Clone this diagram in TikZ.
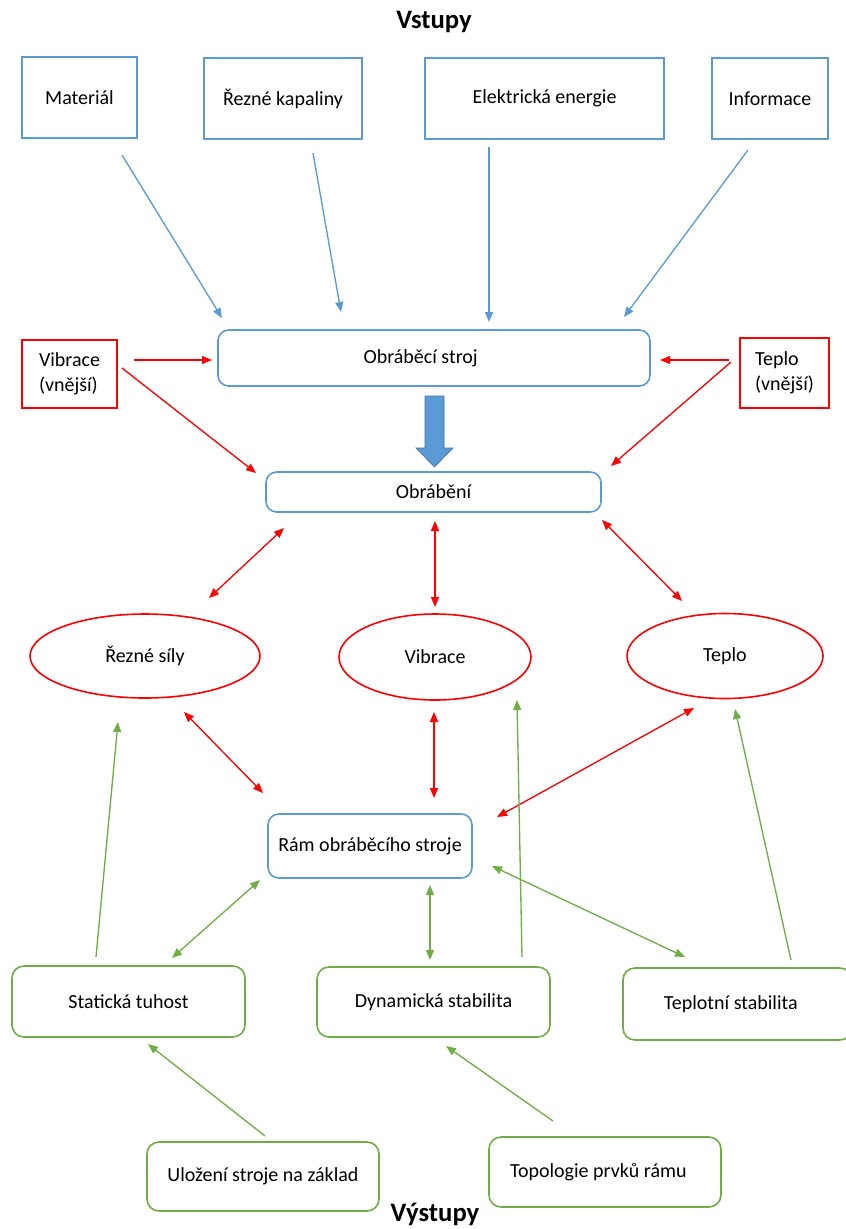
\documentclass[tikz,border=0pt]{standalone}
\usepackage{fontspec}
\setmainfont{Carlito}
\usetikzlibrary{arrows.meta,shapes.geometric}
\definecolor{cblue}{HTML}{5B9BD5}
\definecolor{cblued}{HTML}{41719C}
\definecolor{cred}{HTML}{FF0000}
\definecolor{cgreen}{HTML}{70AD47}
\newcommand\mybox[7]{\node[#6, minimum width={(#4-#2)*0.75pt}, minimum height={(#5-#3)*0.75pt}] (#1) at ({(#2+#4)/2},{(#3+#5)/2}) {#7};}
\begin{document}
\begin{tikzpicture}[x=0.75pt,y=-0.75pt,
  font=\fontsize{15}{19}\selectfont,
  bbox/.style={draw=cblue, line width=1.2pt, inner sep=0pt},
  rbbox/.style={bbox, rounded corners=8pt},
  rbox/.style={draw=cred, line width=1.2pt, inner sep=0pt, align=left},
  rell/.style={draw=cred, line width=1.2pt, ellipse, inner sep=0pt},
  gbox/.style={draw=cgreen, line width=1.2pt, inner sep=0pt, rounded corners=9pt},
  tip/.style={-{Triangle[length=7.5pt,width=6pt]}},
  dtip/.style={{Triangle[length=7.5pt,width=6pt]}-{Triangle[length=7.5pt,width=6pt]}},
  barr/.style={tip, draw=cblue, line width=1pt},
  rarr/.style={tip, draw=cred, line width=1pt},
  rdarr/.style={dtip, draw=cred, line width=1pt},
  garr/.style={tip, draw=cgreen, line width=1pt},
  gdarr/.style={dtip, draw=cgreen, line width=1pt},
  title/.style={font=\fontsize{20}{24}\selectfont\bfseries, inner sep=0pt}]
\useasboundingbox (0,0) rectangle (846,1229);

\node[title] (vstupy) at (434,22) {Vstupy};

% inputs
\mybox{mat}{22}{57}{137}{138}{bbox}{Materiál}
\mybox{rez}{204}{58}{362}{139}{bbox}{Řezné kapaliny}
\mybox{ele}{425}{58}{664}{139}{bbox}{Elektrická energie}
\mybox{inf}{712}{58}{828}{139}{bbox}{Informace}

\mybox{stroj}{218}{330}{650}{386}{rbbox}{Obráběcí stroj\kern20pt}
\mybox{vibv}{22}{340}{117}{408}{rbox}{Vibrace\\(vnější)}
\mybox{teplv}{740}{338}{829}{408}{rbox}{Teplo\\(vnější)}
\mybox{obr}{266}{472}{601}{512}{rbbox}{Obrábění}

\node[rell, minimum width={230*0.75pt}, minimum height={84*0.75pt}] (rs) at (145,656) {Řezné síly};
\node[rell, minimum width={192*0.75pt}, minimum height={86*0.75pt}] (vib) at (435,657) {Vibrace};
\node[rell, minimum width={196*0.75pt}, minimum height={85*0.75pt}] (tep) at (725,656) {Teplo};

\mybox{ram}{268}{814}{472}{878}{rbbox}{Rám obráběcího stroje}

\mybox{st}{12}{966}{245}{1037}{gbox}{Statická tuhost}
\mybox{dy}{317}{967}{550}{1037}{gbox}{Dynamická stabilita}
\mybox{ts}{623}{968}{852}{1040}{gbox}{Teplotní stabilita\kern10pt}
\mybox{ul}{147}{1142}{379}{1211}{gbox}{Uložení stroje na základ}
\mybox{to}{489}{1137}{721}{1207}{gbox}{Topologie prvků rámu\kern10pt}

\node[title] (vystupy) at (435,1214) {Výstupy};

% connector end points
\coordinate (a1) at (122,155); \coordinate (b1) at (222,318);
\coordinate (a2) at (313,153); \coordinate (b2) at (341,312);
\coordinate (a3) at (489,147); \coordinate (b3) at (489,322);
\coordinate (a4) at (748,150); \coordinate (b4) at (624,317);
\draw[barr] (a1) -- (b1);
\draw[barr] (a2) -- (b2);
\draw[barr] (a3) -- (b3);
\draw[barr] (a4) -- (b4);

\coordinate (c1) at (134,360); \coordinate (d1) at (212,360);
\coordinate (c2) at (729,360); \coordinate (d2) at (660,360);
\coordinate (c3) at (122,368); \coordinate (d3) at (256,473);
\coordinate (c4) at (731,362); \coordinate (d4) at (611,466);
\draw[rarr] (c1) -- (d1);
\draw[rarr] (c2) -- (d2);
\draw[rarr] (c3) -- (d3);
\draw[rarr] (c4) -- (d4);

% block arrow
\draw[fill=cblue, draw=cblued, line width=0.5pt]
  (425,396) -- (444,396) -- (444,448) -- (453,448) -- (434.5,467) -- (416,448) -- (425,448) -- cycle;

\coordinate (e1) at (284,528); \coordinate (f1) at (209,598);
\coordinate (e2) at (435,521); \coordinate (f2) at (435,607);
\coordinate (e3) at (602,520); \coordinate (f3) at (682,601);
\draw[rdarr] (e1) -- (f1);
\draw[rdarr] (e2) -- (f2);
\draw[rdarr] (e3) -- (f3);

\coordinate (g1) at (184,712); \coordinate (h1) at (263,793);
\coordinate (g2) at (434,712); \coordinate (h2) at (434,798);
\coordinate (g3) at (694,708); \coordinate (h3) at (497,817);
\draw[rdarr] (g1) -- (h1);
\draw[rdarr] (g2) -- (h2);
\draw[rdarr] (g3) -- (h3);

% green
\coordinate (i1) at (96,957); \coordinate (j1) at (118,722);
\coordinate (i2) at (522,957); \coordinate (j2) at (517,700);
\coordinate (i3) at (791,960); \coordinate (j3) at (735,709);
\draw[garr] (i1) -- (j1);
\draw[garr] (i2) -- (j2);
\draw[garr] (i3) -- (j3);

\coordinate (k1) at (260,880); \coordinate (l1) at (172,958);
\coordinate (k2) at (430,885); \coordinate (l2) at (430,960);
\coordinate (k3) at (492,866); \coordinate (l3) at (685,957);
\draw[gdarr] (k1) -- (l1);
\draw[gdarr] (k2) -- (l2);
\draw[gdarr] (k3) -- (l3);

\coordinate (m1) at (265,1136); \coordinate (n1) at (148,1044);
\coordinate (m2) at (553,1121); \coordinate (n2) at (446,1046);
\draw[garr] (m1) -- (n1);
\draw[garr] (m2) -- (n2);
\end{tikzpicture}
\end{document}
